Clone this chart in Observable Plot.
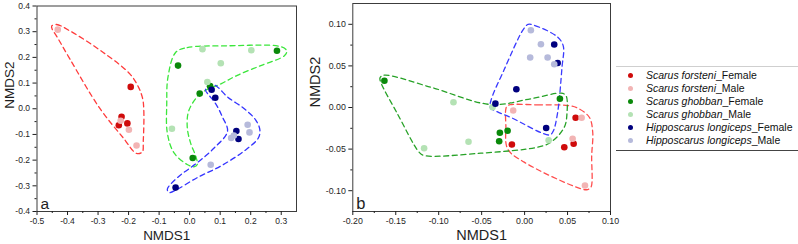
<!DOCTYPE html>
<html><head><meta charset="utf-8">
<script src="https://cdn.jsdelivr.net/npm/d3@7"></script>
<script src="https://cdn.jsdelivr.net/npm/@observablehq/plot@0.6"></script>
<style>
body{margin:0;background:#fff;}
#wrap{position:relative;width:798px;height:244px;font-family:"Liberation Sans",Arial,sans-serif;overflow:hidden;background:#fff;}
#pa{position:absolute;left:0;top:0;}
#pb{position:absolute;left:300px;top:0;}
#legend{position:absolute;left:616px;top:66px;width:182px;height:81px;padding-top:1.5px;box-sizing:content-box;border-top:1px solid #cfcfcf;border-bottom:1px solid #444;}
.row{height:13px;line-height:13px;font-size:10.5px;white-space:nowrap;position:relative;color:#111;}
.sw{position:absolute;left:11.5px;top:4px;width:5px;height:5px;border-radius:50%;}
.lab{position:absolute;left:30px;top:0;}
</style></head><body>
<div id="wrap"><div id="pa"></div><div id="pb"></div><div id="legend"></div></div>
<script>
// ---- categories ----
const species = ["Scarus forsteni", "Scarus ghobban", "Hipposcarus longiceps"];
const sexes = ["Female", "Male"];

// ---- panel a points (NMDS1, NMDS2) ----
const aForsteniFemale = [[-0.193,0.085],[-0.223,-0.031],[-0.232,-0.064],[-0.204,-0.057]];
const aForsteniMale = [[-0.432,0.308],[-0.226,-0.047],[-0.199,-0.082],[-0.174,-0.143]];
const aGhobbanFemale = [[-0.038,0.168],[0.033,0.059],[0.067,0.088],[0.286,0.226],[0.010,-0.192]];
const aGhobbanMale = [[0.042,0.232],[0.202,0.228],[0.102,0.177],[0.058,0.104],[-0.058,-0.078]];
const aLongicepsFemale = [[0.072,0.074],[0.084,0.043],[0.153,-0.087],[0.160,-0.118],[-0.046,-0.307]];
const aLongicepsMale = [[0.190,-0.062],[0.196,-0.092],[0.136,-0.114],[0.145,-0.104],[0.069,-0.218]];

// ---- panel a enclosure outlines ----
const aHullForsteni = [[-0.452,0.322],[-0.436,0.328],[-0.392,0.303],[-0.283,0.219],[-0.196,0.136],[-0.168,0.085],[-0.154,0.040],[-0.150,-0.012],[-0.152,-0.127],[-0.155,-0.168],[-0.174,-0.174],[-0.217,-0.114],[-0.294,0.001],[-0.392,0.193],[-0.436,0.283],[-0.450,0.309]];
const aHullGhobban = [[-0.046,0.219],[-0.008,0.238],[0.124,0.245],[0.298,0.242],[0.318,0.226],[0.311,0.207],[0.233,0.168],[0.156,0.130],[0.104,0.098],[0.036,0.059],[-0.002,-0.005],[-0.008,-0.069],[0.003,-0.133],[0.020,-0.185],[0.025,-0.217],[0.014,-0.226],[-0.008,-0.217],[-0.051,-0.172],[-0.073,-0.095],[-0.075,0.020],[-0.071,0.123]];
const aHullLongiceps = [[0.052,0.072],[0.058,0.087],[0.074,0.095],[0.091,0.085],[0.124,0.046],[0.178,0.001],[0.216,-0.043],[0.230,-0.082],[0.225,-0.114],[0.178,-0.165],[0.102,-0.223],[0.025,-0.268],[-0.040,-0.313],[-0.068,-0.326],[-0.073,-0.313],[-0.040,-0.268],[0.025,-0.210],[0.080,-0.153],[0.124,-0.088],[0.107,-0.031],[0.085,0.020],[0.063,0.053]];

// ---- panel b points ----
const bForsteniFemale = [[-0.0148,-0.0445],[0.0462,-0.0477],[0.0571,-0.0436],[0.0594,-0.0124]];
const bForsteniMale = [[-0.0133,-0.0036],[0.0664,-0.0124],[0.0559,-0.0376],[0.0703,-0.0938]];
const bGhobbanFemale = [[-0.1632,0.0321],[0.0411,0.0105],[-0.0198,-0.0280],[-0.0288,-0.0304],[-0.0296,-0.0405]];
const bGhobbanMale = [[-0.0828,0.0064],[-0.1170,-0.0489],[-0.0653,-0.0412],[0.0280,-0.0393],[-0.0373,0.0004]];
const bLongicepsFemale = [[0.0345,0.0757],[0.0385,0.0535],[-0.0096,0.0220],[-0.0340,0.0046],[0.0251,-0.0246]];
const bLongicepsMale = [[0.0073,0.0929],[0.0190,0.0761],[0.0065,0.0601],[0.0268,0.0601],[0.0345,0.0520]];

// ---- panel b enclosure outlines ----
const bHullForsteni = [[-0.0198,0.0024],[0.0152,0.0032],[0.0501,0.0024],[0.0618,-0.0008],[0.0753,-0.0117],[0.0793,-0.0297],[0.0781,-0.0577],[0.0773,-0.0958],[0.0734,-0.0986],[0.0656,-0.0977],[-0.0005,-0.0657],[-0.0198,-0.0496],[-0.0218,-0.0216],[-0.0218,-0.0016]];
const bHullGhobban = [[-0.1683,0.0357],[-0.1636,0.0388],[-0.1092,0.0244],[-0.0393,0.0036],[0.0073,0.0105],[0.0423,0.0172],[0.0481,0.0144],[0.0493,-0.0076],[0.0462,-0.0237],[0.0307,-0.0417],[0.0152,-0.0477],[-0.0509,-0.0549],[-0.1170,-0.0577],[-0.1228,-0.0537],[-0.1480,-0.0076],[-0.1675,0.0305]];
const bHullLongiceps = [[0.004,0.0998],[0.012,0.0985],[0.038,0.085],[0.045,0.074],[0.0435,0.048],[0.038,-0.009],[0.033,-0.029],[0.029,-0.033],[-0.016,-0.012],[-0.032,-0.005],[-0.040,0.0],[-0.039,0.009],[-0.024,0.045],[-0.002,0.093]];

// ---- ticks ----
const aXTicks = [-0.5,-0.4,-0.3,-0.2,-0.1,0.0,0.1,0.2,0.3];
const aXMinor = [-0.45,-0.35,-0.25,-0.15,-0.05,0.05,0.15,0.25];
const aYTicks = [-0.4,-0.3,-0.2,-0.1,0.0,0.1,0.2,0.3,0.4];
const aYMinor = [-0.35,-0.25,-0.15,-0.05,0.05,0.15,0.25,0.35];
const bXTicks = [-0.20,-0.15,-0.10,-0.05,0.00,0.05,0.10];
const bXMinor = [-0.175,-0.125,-0.075,-0.025,0.025,0.075];
const bYTicks = [-0.10,-0.05,0.00,0.05,0.10];
const bYMinor = [-0.075,-0.025,0.025,0.075];

// ---- styles ----
const femaleColors = ["#cf0b0b", "#0a890a", "#00007e"];
const maleColors = ["#f2b4b4", "#b4e2b4", "#b6badb"];
const hullColorsA = ["#ff3b3b", "#3be63b", "#3434ff"];
const hullColorsB = ["#ff4d4d", "#27a227", "#3a3aff"];
const FONT = '"Liberation Sans", Arial, sans-serif';

const fmt = n => v => d3.format("." + n + "f")(v).replace("\u2212", "-");

function rows(groups) {
  const out = [];
  groups.forEach(([arr, sp, sex]) => arr.forEach(([x, y]) => out.push({x, y, species: sp, sex})));
  return out;
}
function colorOf(d) {
  const i = species.indexOf(d.species);
  return d.sex === "Female" ? femaleColors[i] : maleColors[i];
}

function panel(cfg) {
  const pts = rows(cfg.groups);
  const hullMarks = cfg.hulls.map((h, i) => Plot.line(h, {
    x: d => d[0], y: d => d[1], curve: "catmull-rom-closed",
    stroke: cfg.hullColors[i], strokeWidth: 1.3, strokeDasharray: "5,3.6"
  }));
  return Plot.plot({
    width: cfg.width, height: 244,
    marginLeft: cfg.marginLeft, marginRight: cfg.marginRight, marginTop: cfg.marginTop, marginBottom: 33,
    x: {domain: cfg.xDomain}, y: {domain: cfg.yDomain},
    color: {type: "identity"},
    style: {fontFamily: FONT, fontSize: cfg.tickFont + "px", color: "#1e1e1e", background: "transparent", overflow: "visible"},
    marks: [
      ...hullMarks,
      Plot.dot(pts, {x: "x", y: "y", r: 3.3, fill: colorOf, stroke: "none"}),
      Plot.frame({stroke: "#3c3c3c", strokeWidth: 1}),
      Plot.axisX({ticks: cfg.xMinor, tickSize: 2, tickFormat: () => "", label: null}),
      Plot.axisY({ticks: cfg.yMinor, tickSize: 2, tickFormat: () => "", label: null}),
      Plot.axisX({ticks: cfg.xTicks, tickSize: 4, tickPadding: 2, tickFormat: fmt(cfg.dec), label: null}),
      Plot.axisY({ticks: cfg.yTicks, tickSize: 4, tickPadding: 3, tickFormat: fmt(cfg.dec), label: null}),
      Plot.text(["NMDS1"], {text: d => d, frameAnchor: "bottom", dy: 28, fontSize: cfg.titleFont, fill: "#1e1e1e"}),
      Plot.text(["NMDS2"], {text: d => d, frameAnchor: "left", dx: -cfg.yTitleOffset, rotate: -90, fontSize: cfg.titleFont, fill: "#1e1e1e"}),
      Plot.text([cfg.letter], {text: d => d, frameAnchor: "bottom-left", dx: 3.5, dy: -3, textAnchor: "start", lineAnchor: "bottom", fontSize: cfg.letterFont, fill: "#1e1e1e"})
    ]
  });
}

document.getElementById("pa").appendChild(panel({
  width: 300, marginLeft: 36.5, marginRight: 4, marginTop: 5.5,
  xDomain: [-0.5, 0.35], yDomain: [-0.4, 0.4],
  xTicks: aXTicks, xMinor: aXMinor, yTicks: aYTicks, yMinor: aYMinor, dec: 1,
  groups: [[aForsteniFemale, species[0], "Female"], [aForsteniMale, species[0], "Male"],
           [aGhobbanFemale, species[1], "Female"], [aGhobbanMale, species[1], "Male"],
           [aLongicepsFemale, species[2], "Female"], [aLongicepsMale, species[2], "Male"]],
  hulls: [aHullForsteni, aHullGhobban, aHullLongiceps], hullColors: hullColorsA,
  tickFont: 8.5, titleFont: 13.5, letterFont: 15.5, letter: "a", yTitleOffset: 27
}));

document.getElementById("pb").appendChild(panel({
  width: 312, marginLeft: 52.3, marginRight: 2, marginTop: 3,
  xDomain: [-0.2, 0.1], yDomain: [-0.125, 0.125],
  xTicks: bXTicks, xMinor: bXMinor, yTicks: bYTicks, yMinor: bYMinor, dec: 2,
  groups: [[bForsteniFemale, species[0], "Female"], [bForsteniMale, species[0], "Male"],
           [bGhobbanFemale, species[1], "Female"], [bGhobbanMale, species[1], "Male"],
           [bLongicepsFemale, species[2], "Female"], [bLongicepsMale, species[2], "Male"]],
  hulls: [bHullForsteni, bHullGhobban, bHullLongiceps], hullColors: hullColorsB,
  tickFont: 8.8, titleFont: 14.5, letterFont: 16.5, letter: "b", yTitleOffset: 37
}));

// ---- legend ----
const legend = document.getElementById("legend");
species.forEach((sp, i) => sexes.forEach(sex => {
  const c = sex === "Female" ? femaleColors[i] : maleColors[i];
  const r = document.createElement("div");
  r.className = "row";
  r.innerHTML = `<span class="sw" style="background:${c}"></span><span class="lab"><i>${sp}</i>_${sex}</span>`;
  legend.appendChild(r);
}));
</script>
</body></html>
